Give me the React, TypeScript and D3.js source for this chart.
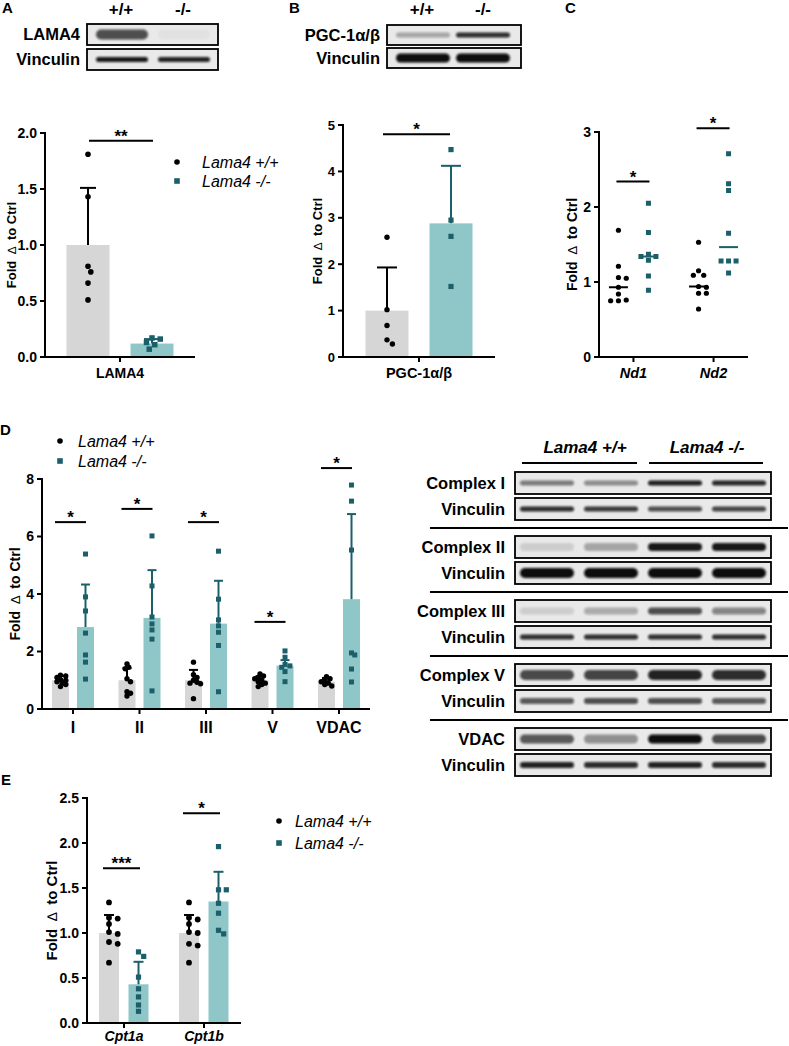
import React from 'react';
import * as d3 from 'd3';

const FONT = '"Liberation Sans", Arial, Helvetica, sans-serif';
const BAR_GRAY = '#d6d6d6';
const BAR_TEAL = '#8fc7c8';
const DARK_TEAL = '#1b5f6a';

// ---------- Panel A ----------
const aCats = ['LAMA4'];
const aWT = [[1.81, 1.43, 0.81, 0.76, 0.66, 0.51]];
const aKO = [[0.17, 0.16, 0.13, 0.11, 0.07]];
const aWTMean = [1.0];
const aKOMean = [0.12];
const aWTTop = [1.51];
const aKOTop = [0.16];
const aSig = ['**'];
const aSigY = [1.93];
const aTicks = [0, 0.5, 1.0, 1.5, 2.0];

// ---------- Panel B ----------
const bCats = ['PGC-1α/β'];
const bWT = [[2.58, 1.02, 0.68, 0.37, 0.28]];
const bKO = [[4.47, 2.95, 2.6, 1.52]];
const bWTMean = [1.0];
const bKOMean = [2.88];
const bWTTop = [1.93];
const bKOTop = [4.12];
const bSig = ['*'];
const bSigY = [4.8];
const bTicks = [0, 1, 2, 3, 4, 5];

// ---------- Panel C ----------
const cCats = ['Nd1', 'Nd2'];
const cWT = [
  [1.69, 1.21, 1.06, 1.05, 0.93, 0.84, 0.75, 0.76, 0.75],
  [1.53, 1.15, 1.09, 1.09, 0.94, 0.93, 0.85, 0.85, 0.64],
];
const cKO = [
  [2.05, 1.66, 1.37, 1.34, 1.34, 1.29, 1.08, 0.89],
  [2.71, 2.31, 2.22, 1.65, 1.28, 1.28, 1.28, 1.12],
];
const cSig = ['*', '*'];
const cSigY = [2.34, 3.05];
const cTicks = [0, 1, 2, 3];

// ---------- Panel D ----------
const dCats = ['I', 'II', 'III', 'V', 'VDAC'];
const dWT = [
  [1.18, 1.15, 1.1, 1.02, 1.0, 0.95, 0.9, 0.85, 0.78],
  [1.57, 1.45, 1.4, 1.05, 0.95, 0.6, 0.55, 0.45],
  [1.63, 1.19, 1.1, 1.0, 0.93, 0.9, 0.88, 0.36],
  [1.22, 1.15, 1.1, 1.05, 1.0, 0.95, 0.9, 0.85, 0.78],
  [1.12, 1.05, 1.0, 0.95, 0.9, 0.85, 0.8],
];
const dKO = [
  [5.39, 3.9, 3.41, 2.64, 1.88, 1.63, 1.04],
  [6.02, 4.28, 3.2, 2.96, 2.75, 2.43, 0.63],
  [5.49, 3.82, 3.1, 2.89, 2.67, 2.21, 0.6],
  [2.02, 1.8, 1.55, 1.5, 1.45, 1.3, 0.95],
  [7.79, 7.23, 5.53, 1.95, 1.88, 1.39, 0.94],
];
const dWTMean = [1.0, 1.0, 1.0, 1.0, 0.95];
const dKOMean = [2.85, 3.17, 2.97, 1.51, 3.82];
const dWTTop = [1.15, 1.42, 1.36, 1.14, 1.08];
const dKOTop = [4.33, 4.83, 4.46, 1.7, 6.78];
const dSig = ['*', '*', '*', '*', '*'];
const dSigY = [6.5, 6.96, 6.5, 3.03, 8.38];
const dTicks = [0, 2, 4, 6, 8];

// ---------- Panel E ----------
const eCats = ['Cpt1a', 'Cpt1b'];
const eWT = [
  [1.34, 1.17, 1.16, 1.1, 1.01, 0.99, 0.9, 0.88, 0.67],
  [1.34, 1.17, 1.15, 1.1, 1.01, 1.0, 0.88, 0.86, 0.67],
];
const eKO = [
  [0.79, 0.74, 0.51, 0.38, 0.29, 0.2, 0.13],
  [1.96, 1.48, 1.48, 1.33, 1.22, 1.03, 0.99],
];
const eWTMean = [1.0, 1.0];
const eKOMean = [0.43, 1.35];
const eWTTop = [1.2, 1.2];
const eKOTop = [0.68, 1.68];
const eSig = ['***', '*'];
const eSigY = [1.72, 2.33];
const eTicks = [0, 0.5, 1.0, 1.5, 2.0, 2.5];

// ---------- Blots ----------
const genotypes = ['+/+', '-/-'];
const aBlotLabels = ['LAMA4', 'Vinculin'];
const aBlotLevels = [[0.7, 0.03], [0.95, 0.9]];
const aBlotThick = [10, 5];
const bBlotLabels = ['PGC-1α/β', 'Vinculin'];
const bBlotLevels = [[0.3, 0.85], [1, 1]];
const bBlotThick = [5, 9];
const dBlotGroups = ['Lama4 +/+', 'Lama4 -/-'];
const dBlotLabels = ['Complex I', 'Vinculin', 'Complex II', 'Vinculin', 'Complex III', 'Vinculin', 'Complex V', 'Vinculin', 'VDAC', 'Vinculin'];
const dBlotLevels = [
  [0.5, 0.42, 0.92, 0.88],
  [0.85, 0.8, 0.7, 0.75],
  [0.12, 0.3, 0.95, 0.95],
  [1, 1, 1, 1],
  [0.12, 0.28, 0.7, 0.45],
  [0.85, 0.85, 0.85, 0.85],
  [0.72, 0.75, 0.9, 0.85],
  [0.65, 0.7, 0.7, 0.65],
  [0.65, 0.4, 1, 0.72],
  [0.9, 0.85, 0.9, 0.85],
];
const dBlotThick = [5, 5, 8, 10, 7, 5, 10, 6, 9, 6];

const legendLabels = ['Lama4 +/+', 'Lama4 -/-'];

function swarm(ys: number[], d: number, step: number): number[] {
  const placed: [number, number][] = [];
  return ys.map((py) => {
    for (let k = 0; k < 60; k++) {
      const c = k === 0 ? 0 : (k % 2 ? 1 : -1) * Math.ceil(k / 2) * step;
      if (placed.every(([px, qy]) => (px - c) ** 2 + (qy - py) ** 2 >= d * d)) {
        placed.push([c, py]);
        return c;
      }
    }
    placed.push([0, py]);
    return 0;
  });
}

function YLabel({ x, y, size }: { x: number; y: number; size: number }) {
  return (
    <text transform={`translate(${x},${y}) rotate(-90)`} textAnchor="middle" dy="0.35em" fontSize={size} fontWeight="bold">
      Fold<tspan fontWeight="normal" fontSize={size - 1}>{'\u00a0\u00a0\u2206\u00a0\u00a0'}</tspan>to Ctrl
    </text>
  );
}

function Legend({ x, y, gap, tx }: { x: number; y: number; gap: number; tx: number }) {
  return (
    <g>
      <circle cx={x} cy={y} r={2.8} fill="#000" />
      <rect x={x - 2.8} y={y + gap - 2.8} width={5.6} height={5.6} fill={DARK_TEAL} />
      {legendLabels.map((l, i) => (
        <text key={i} x={tx} y={y + i * gap} dy="0.35em" fontSize={16} fontStyle="italic">{l}</text>
      ))}
    </g>
  );
}

type PanelProps = {
  cats: string[]; wt: number[][]; ko: number[][];
  wtMean?: number[]; koMean?: number[]; wtTop?: number[]; koTop?: number[];
  sig: string[]; sigY: number[]; sigL: number; sigR: number;
  yMax: number; ticks: number[]; fmt: string;
  x0: number; x1: number; pad: number; yBottom: number; yTopPx: number;
  offW: number; offK: number; barW?: number; capW?: number;
  dotR: number; sq: number; tickFont: number; xFont: number; xItalic: boolean; xDy: number;
  yLabelX: number; yLabelSize: number; median?: boolean; medW?: number; sep?: number;
};

function Panel(p: PanelProps) {
  const y = d3.scaleLinear().domain([0, p.yMax]).range([p.yBottom, p.yTopPx]);
  const x = d3.scalePoint<string>().domain(p.cats).range([p.x0, p.x1]).padding(p.pad);
  const fmt = d3.format(p.fmt);
  const sep = p.sep ?? 1;
  const els: React.ReactNode[] = [];
  p.cats.forEach((c, i) => {
    const cx = x(c) as number;
    const xw = cx + p.offW;
    const xk = cx + p.offK;
    if (!p.median && p.barW) {
      els.push(<rect key={`bw${i}`} x={xw - p.barW / 2} y={y(p.wtMean![i])} width={p.barW} height={p.yBottom - y(p.wtMean![i])} fill={BAR_GRAY} />);
      els.push(<rect key={`bk${i}`} x={xk - p.barW / 2} y={y(p.koMean![i])} width={p.barW} height={p.yBottom - y(p.koMean![i])} fill={BAR_TEAL} />);
      const cw = p.capW || 10;
      els.push(
        <g key={`ew${i}`} stroke="#000" strokeWidth={2}>
          <line x1={xw} x2={xw} y1={y(p.wtMean![i])} y2={y(p.wtTop![i])} />
          <line x1={xw - cw / 2} x2={xw + cw / 2} y1={y(p.wtTop![i])} y2={y(p.wtTop![i])} />
        </g>
      );
      els.push(
        <g key={`ek${i}`} stroke={DARK_TEAL} strokeWidth={2}>
          <line x1={xk} x2={xk} y1={y(p.koMean![i])} y2={y(p.koTop![i])} />
          <line x1={xk - cw / 2} x2={xk + cw / 2} y1={y(p.koTop![i])} y2={y(p.koTop![i])} />
        </g>
      );
    }
    const wy = p.wt[i].map((v) => y(v));
    const wo = swarm(wy, (p.dotR * 2 + 0.4) * sep, p.dotR * sep);
    wy.forEach((py, j) => els.push(<circle key={`pw${i}-${j}`} cx={xw + wo[j]} cy={py} r={p.dotR} fill="#000" />));
    const ky = p.ko[i].map((v) => y(v));
    const ko = swarm(ky, (p.sq + 0.6) * sep, (p.sq / 2) * sep);
    ky.forEach((py, j) => els.push(<rect key={`pk${i}-${j}`} x={xk + ko[j] - p.sq / 2} y={py - p.sq / 2} width={p.sq} height={p.sq} fill={DARK_TEAL} />));
    if (p.median) {
      const mw = d3.median(p.wt[i]) as number;
      const mk = d3.median(p.ko[i]) as number;
      const hw = (p.medW || 18) / 2;
      els.push(<line key={`mw${i}`} x1={xw - hw} x2={xw + hw} y1={y(mw)} y2={y(mw)} stroke="#000" strokeWidth={2} />);
      els.push(<line key={`mk${i}`} x1={xk - hw} x2={xk + hw} y1={y(mk)} y2={y(mk)} stroke={DARK_TEAL} strokeWidth={2} />);
    }
    const sy = y(p.sigY[i]);
    els.push(<line key={`sl${i}`} x1={cx + p.sigL} x2={cx + p.sigR} y1={sy} y2={sy} stroke="#000" strokeWidth={2} />);
    els.push(<text key={`st${i}`} x={cx + (p.sigL + p.sigR) / 2} y={sy + 1} textAnchor="middle" fontSize={17} fontWeight="bold">{p.sig[i]}</text>);
    els.push(<line key={`xt${i}`} x1={cx} x2={cx} y1={p.yBottom} y2={p.yBottom + 5} stroke="#000" strokeWidth={2} />);
    els.push(<text key={`xl${i}`} x={cx} y={p.yBottom + p.xDy} textAnchor="middle" fontSize={p.xFont} fontWeight="bold" fontStyle={p.xItalic ? 'italic' : 'normal'}>{c}</text>);
  });
  return (
    <g>
      {els}
      <line x1={p.x0} x2={p.x1} y1={p.yBottom} y2={p.yBottom} stroke="#000" strokeWidth={2} />
      <line x1={p.x0} x2={p.x0} y1={p.yBottom + 1} y2={p.yTopPx - 1} stroke="#000" strokeWidth={2} />
      {p.ticks.map((t, i) => (
        <g key={`yt${i}`}>
          <line x1={p.x0 - 5} x2={p.x0} y1={y(t)} y2={y(t)} stroke="#000" strokeWidth={2} />
          <text x={p.x0 - 8} y={y(t)} dy="0.35em" textAnchor="end" fontSize={p.tickFont} fontWeight="bold">{fmt(t)}</text>
        </g>
      ))}
      <YLabel x={p.yLabelX} y={(p.yBottom + p.yTopPx) / 2} size={p.yLabelSize} />
    </g>
  );
}

function Blot({ labels, levels, thick, tops, h, x0, x1, lanes, bandW, labelX }: {
  labels: string[]; levels: number[][]; thick: number[]; tops: number[]; h: number;
  x0: number; x1: number; lanes: number[]; bandW: number; labelX: number;
}) {
  return (
    <g>
      {labels.map((lab, i) => {
        const top = tops[i];
        const cy = top + h / 2;
        return (
          <g key={i}>
            <text x={labelX} y={cy} dy="0.36em" textAnchor="end" fontSize={16.5} fontWeight="bold">{lab}</text>
            <rect x={x0} y={top} width={x1 - x0} height={h} fill="#e9e9e9" />
            {lanes.map((c, j) => (
              <rect key={j} x={c - bandW / 2} y={cy - thick[i] / 2} width={bandW} height={thick[i]} rx={thick[i] / 2}
                fill="#0a0a0a" opacity={levels[i][j]} filter="url(#bandBlur)" />
            ))}
            <rect x={x0} y={top} width={x1 - x0} height={h} fill="none" stroke="#000" strokeWidth={1.8} />
          </g>
        );
      })}
    </g>
  );
}

export default function App() {
  const dTops = dBlotLabels.map((_, i) => 472 + Math.floor(i / 2) * 64 + (i % 2) * 26);
  const dLanes = [0, 1, 2, 3].map((j) => 515 + 32 + 64 * j);
  const dBoxH = 22;
  return (
    <svg width={789} height={1046} style={{ position: 'absolute', left: 0, top: 0, background: '#fff' }} fontFamily={FONT}>
      <defs>
        <filter id="bandBlur" x="-20%" y="-100%" width="140%" height="300%">
          <feGaussianBlur stdDeviation="1.3" />
        </filter>
      </defs>
      <rect width={789} height={1046} fill="#fff" />
      <g fontSize={15} fontWeight="bold">
        <text x={2} y={13}>A</text>
        <text x={289} y={13}>B</text>
        <text x={565} y={13}>C</text>
        <text x={0} y={435}>D</text>
        <text x={1} y={785}>E</text>
      </g>
      {genotypes.map((g, i) => (
        <text key={`ga${i}`} x={[121, 183][i]} y={15} textAnchor="middle" fontSize={17} fontWeight="bold">{g}</text>
      ))}
      <Blot labels={aBlotLabels} levels={aBlotLevels} thick={aBlotThick} tops={[24, 49]} h={21} x0={87} x1={218} lanes={[122, 184]} bandW={52} labelX={80} />
      {genotypes.map((g, i) => (
        <text key={`gb${i}`} x={[422, 483][i]} y={15} textAnchor="middle" fontSize={17} fontWeight="bold">{g}</text>
      ))}
      <Blot labels={bBlotLabels} levels={bBlotLevels} thick={bBlotThick} tops={[25, 48]} h={20} x0={387} x1={521} lanes={[423, 483]} bandW={54} labelX={380} />

      <Panel cats={aCats} wt={aWT} ko={aKO} wtMean={aWTMean} koMean={aKOMean} wtTop={aWTTop} koTop={aKOTop}
        sig={aSig} sigY={aSigY} sigL={-31} sigR={33} yMax={2} ticks={aTicks} fmt=".1f"
        x0={45} x1={195} pad={0.5} yBottom={357} yTopPx={133} offW={-32} offK={32} barW={43} capW={16}
        dotR={2.8} sq={5.5} tickFont={14} xFont={14} xItalic={false} xDy={21} yLabelX={11} yLabelSize={13} />
      <Legend x={177} y={162} gap={19} tx={202} />

      <Panel cats={bCats} wt={bWT} ko={bKO} wtMean={bWTMean} koMean={bKOMean} wtTop={bWTTop} koTop={bKOTop}
        sig={bSig} sigY={bSigY} sigL={-36} sigR={31} yMax={5} ticks={bTicks} fmt="d"
        x0={343} x1={495} pad={0.5} yBottom={357} yTopPx={125} offW={-32} offK={32} barW={43} capW={20}
        dotR={2.7} sq={5.2} tickFont={13} xFont={14.5} xItalic={false} xDy={21} yLabelX={317} yLabelSize={13} />

      <Panel cats={cCats} wt={cWT} ko={cKO}
        sig={cSig} sigY={cSigY} sigL={-17} sigR={16} yMax={3} ticks={cTicks} fmt="d"
        x0={599} x1={748} pad={0.43} yBottom={357} yTopPx={132} offW={-15} offK={15}
        dotR={2.6} sq={5} tickFont={14} xFont={14.5} xItalic={true} xDy={21} yLabelX={572} yLabelSize={14} median medW={19} />

      <Panel cats={dCats} wt={dWT} ko={dKO} wtMean={dWTMean} koMean={dKOMean} wtTop={dWTTop} koTop={dKOTop}
        sig={dSig} sigY={dSigY} sigL={-18} sigR={13} yMax={8} ticks={dTicks} fmt="d"
        x0={42} x1={370} pad={0.466} yBottom={709} yTopPx={479} offW={-12.5} offK={12.5} barW={17} capW={9}
        dotR={2.7} sq={5} tickFont={14} xFont={16} xItalic={false} xDy={24} yLabelX={15} yLabelSize={14} sep={0.65} />
      <Legend x={60} y={441} gap={20} tx={78} />

      {dBlotGroups.map((g, i) => (
        <g key={`dg${i}`}>
          <text x={[585, 707][i]} y={453} textAnchor="middle" fontSize={17} fontWeight="bold" fontStyle="italic">{g}</text>
          <line x1={[522, 649][i]} x2={[637, 763][i]} y1={463} y2={463} stroke="#000" strokeWidth={2} />
        </g>
      ))}
      <Blot labels={dBlotLabels} levels={dBlotLevels} thick={dBlotThick} tops={dTops} h={dBoxH} x0={515} x1={771} lanes={dLanes} bandW={54} labelX={505} />
      {[0, 1, 2, 3].map((g) => {
        const yy = (dTops[g * 2 + 1] + dBoxH + dTops[g * 2 + 2]) / 2;
        return <line key={`sep${g}`} x1={430} x2={788} y1={yy} y2={yy} stroke="#000" strokeWidth={2.2} />;
      })}

      <Panel cats={eCats} wt={eWT} ko={eKO} wtMean={eWTMean} koMean={eKOMean} wtTop={eWTTop} koTop={eKOTop}
        sig={eSig} sigY={eSigY} sigL={-21} sigR={16} yMax={2.5} ticks={eTicks} fmt=".1f"
        x0={87} x1={241} pad={0.4625} yBottom={1023} yTopPx={798} offW={-15} offK={14.5} barW={20} capW={10}
        dotR={2.9} sq={5.2} tickFont={14} xFont={14} xItalic={true} xDy={18} yLabelX={52} yLabelSize={15} />
      <Legend x={279} y={821} gap={22} tx={295} />
    </svg>
  );
}
